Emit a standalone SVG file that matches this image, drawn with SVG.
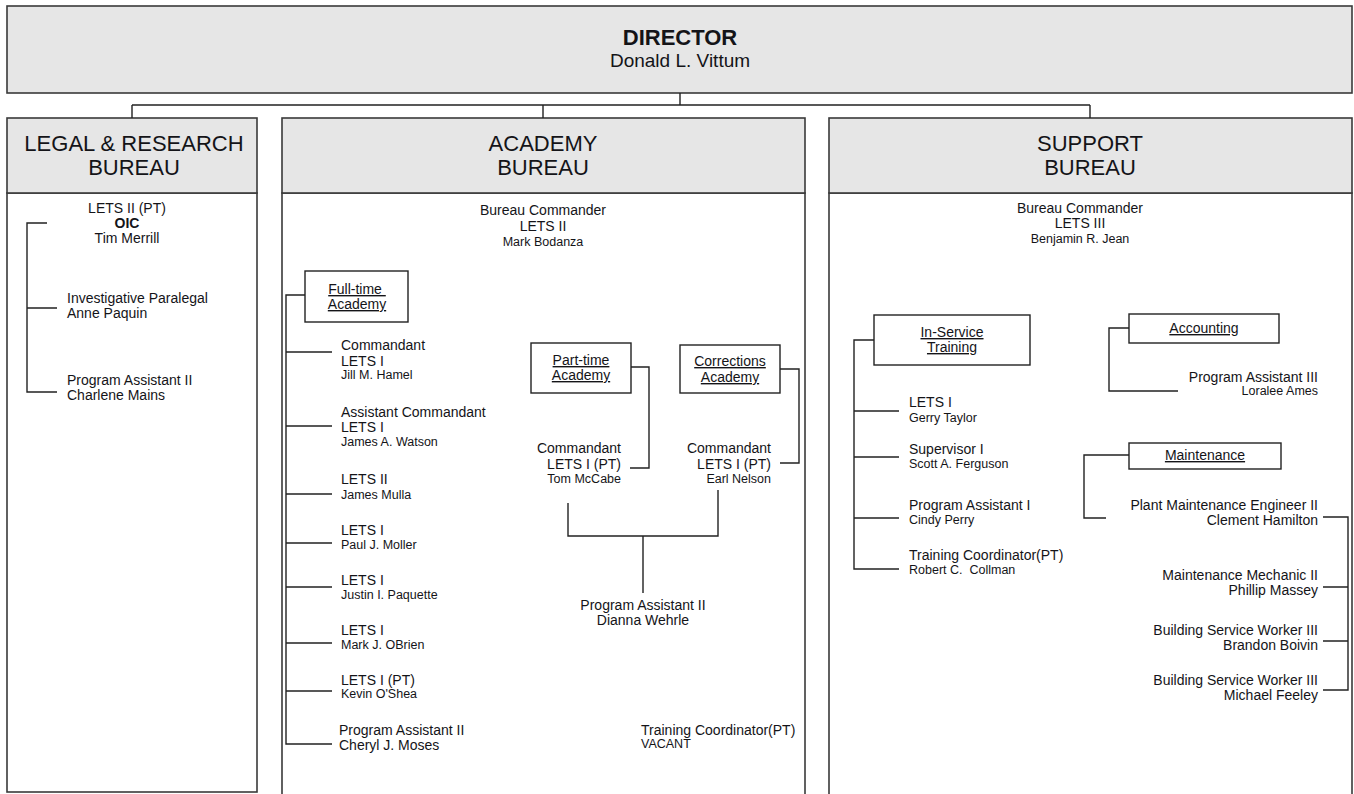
<svg xmlns="http://www.w3.org/2000/svg" width="1354" height="794" viewBox="0 0 1354 794">
<style>
text{font-family:"Liberation Sans",Arial,sans-serif;fill:#141418;white-space:pre}
.hdr{fill:#e6e6e6;stroke:#3a3a3a;stroke-width:1.6}
.body{fill:#fff;stroke:#3a3a3a;stroke-width:1.6}
.sub{fill:#fff;stroke:#222;stroke-width:1.4}
.ln{fill:none;stroke:#222;stroke-width:1.4}
.h{font-size:22px;text-anchor:middle}
.t{font-size:14px}
.n{font-size:12.5px}
.m{text-anchor:middle}
.e{text-anchor:end}
.u{text-decoration:underline}
</style>
<rect width="1354" height="794" fill="#fff"/>
<g id="director">
<rect class="hdr" x="7" y="6" width="1345" height="87"/>
<text x="680" y="45" font-size="22" font-weight="bold" text-anchor="middle">DIRECTOR</text>
<text x="680" y="67" font-size="19" text-anchor="middle">Donald L. Vittum</text>
</g>
<g id="legal">
<rect class="body" x="7" y="193" width="250" height="599"/>
<rect class="hdr" x="7" y="118" width="250" height="75"/>
<text class="h" x="134" y="151">LEGAL &amp; RESEARCH</text>
<text class="h" x="134" y="175">BUREAU</text>
<text class="t m" x="127" y="213">LETS II (PT)</text>
<text class="t m" x="127" y="228" font-weight="bold">OIC</text>
<text class="t m" x="127" y="243">Tim Merrill</text>
<text class="t" x="67" y="303">Investigative Paralegal</text>
<text class="t" x="67" y="318">Anne Paquin</text>
<text class="t" x="67" y="385">Program Assistant II</text>
<text class="t" x="67" y="400">Charlene Mains</text>
</g>
<g id="academy">
<rect class="body" x="282" y="193" width="523" height="620"/>
<rect class="hdr" x="282" y="118" width="523" height="75"/>
<text class="h" x="543" y="151">ACADEMY</text>
<text class="h" x="543" y="175">BUREAU</text>
<text class="t m" x="543" y="215">Bureau Commander</text>
<text class="t m" x="543" y="231">LETS II</text>
<text class="n m" x="543" y="246">Mark Bodanza</text>
</g>
<g id="fulltime">
<rect class="sub" x="305" y="271" width="103" height="51"/>
<text class="t m u" x="357" y="294">Full-time </text>
<text class="t m u" x="357" y="309">Academy</text>
</g>
<g id="fulltime-staff">
<text class="t" x="341" y="350">Commandant</text>
<text class="t" x="341" y="366">LETS I</text>
<text class="n" x="341" y="379">Jill M. Hamel</text>
<text class="t" x="341" y="417">Assistant Commandant</text>
<text class="t" x="341" y="432">LETS I</text>
<text class="n" x="341" y="446">James A. Watson</text>
<text class="t" x="341" y="484">LETS II</text>
<text class="n" x="341" y="499">James Mulla</text>
<text class="t" x="341" y="535">LETS I</text>
<text class="n" x="341" y="549">Paul J. Moller</text>
<text class="t" x="341" y="585">LETS I</text>
<text class="n" x="341" y="599">Justin I. Paquette</text>
<text class="t" x="341" y="635">LETS I</text>
<text class="n" x="341" y="649">Mark J. OBrien</text>
<text class="t" x="341" y="685">LETS I (PT)</text>
<text class="n" x="341" y="698">Kevin O'Shea</text>
<text class="t" x="339" y="735">Program Assistant II</text>
<text class="t" x="339" y="750">Cheryl J. Moses</text>
</g>
<g id="parttime">
<rect class="sub" x="531" y="343" width="100" height="50"/>
<text class="t m u" x="581" y="365">Part-time</text>
<text class="t m u" x="581" y="380">Academy</text>
<text class="t e" x="621" y="453">Commandant</text>
<text class="t e" x="621" y="469">LETS I (PT)</text>
<text class="n e" x="621" y="483">Tom McCabe</text>
</g>
<g id="corrections">
<rect class="sub" x="680" y="345" width="100" height="48"/>
<text class="t m u" x="730" y="366">Corrections</text>
<text class="t m u" x="730" y="382">Academy</text>
<text class="t e" x="771" y="453">Commandant</text>
<text class="t e" x="771" y="469">LETS I (PT)</text>
<text class="n e" x="771" y="483">Earl Nelson</text>
</g>
<g id="academy-pa">
<text class="t m" x="643" y="610">Program Assistant II</text>
<text class="t m" x="643" y="625">Dianna Wehrle</text>
<text class="t" x="641" y="735">Training Coordinator(PT)</text>
<text class="n" x="641" y="748">VACANT</text>
</g>
<g id="support">
<rect class="body" x="829" y="193" width="523" height="620"/>
<rect class="hdr" x="829" y="118" width="523" height="75"/>
<text class="h" x="1090" y="151">SUPPORT</text>
<text class="h" x="1090" y="175">BUREAU</text>
<text class="t m" x="1080" y="213">Bureau Commander</text>
<text class="t m" x="1080" y="228">LETS III</text>
<text class="n m" x="1080" y="243">Benjamin R. Jean</text>
</g>
<g id="inservice">
<rect class="sub" x="874" y="315" width="156" height="50"/>
<text class="t m u" x="952" y="337">In-Service</text>
<text class="t m u" x="952" y="352">Training</text>
<text class="t" x="909" y="407">LETS I</text>
<text class="n" x="909" y="422">Gerry Taylor</text>
<text class="t" x="909" y="454">Supervisor I</text>
<text class="n" x="909" y="468">Scott A. Ferguson</text>
<text class="t" x="909" y="510">Program Assistant I</text>
<text class="n" x="909" y="524">Cindy Perry</text>
<text class="t" x="909" y="560">Training Coordinator(PT)</text>
<text class="n" x="909" y="574">Robert C.  Collman</text>
</g>
<g id="accounting">
<rect class="sub" x="1129" y="314" width="150" height="29"/>
<text class="t m u" x="1204" y="333">Accounting</text>
<text class="t e" x="1318" y="382">Program Assistant III</text>
<text class="n e" x="1318" y="395">Loralee Ames</text>
</g>
<g id="maintenance">
<rect class="sub" x="1129" y="443" width="152" height="26"/>
<text class="t m u" x="1205" y="460">Maintenance</text>
<text class="t e" x="1318" y="510">Plant Maintenance Engineer II</text>
<text class="t e" x="1318" y="525">Clement Hamilton</text>
<text class="t e" x="1318" y="580">Maintenance Mechanic II</text>
<text class="t e" x="1318" y="595">Phillip Massey</text>
<text class="t e" x="1318" y="635">Building Service Worker III</text>
<text class="t e" x="1318" y="650">Brandon Boivin</text>
<text class="t e" x="1318" y="685">Building Service Worker III</text>
<text class="t e" x="1318" y="700">Michael Feeley</text>
</g>
<g id="connectors">
<path class="ln" d="M680 93V105M132 105H1090M132 105V118M543 105V118M1090 105V118"/>
<path class="ln" d="M47 223H27V392H57M27 308H57"/>
<path class="ln" d="M305 295H286V744H332M286 352H332M286 426H332M286 494H332M286 543H332M286 587H332M286 643H332M286 691H332"/>
<path class="ln" d="M631 367H649V468H630M780 369H799V463H780"/>
<path class="ln" d="M568 503V536H718V490M643 536V593"/>
<path class="ln" d="M874 340H854V569H899M854 411H899M854 457H899M854 518H899"/>
<path class="ln" d="M1129 328H1109V391H1178M1129 455H1084V518H1106"/>
<path class="ln" d="M1323 517H1348V690H1323M1323 587H1348M1323 641H1348"/>
</g>
</svg>
